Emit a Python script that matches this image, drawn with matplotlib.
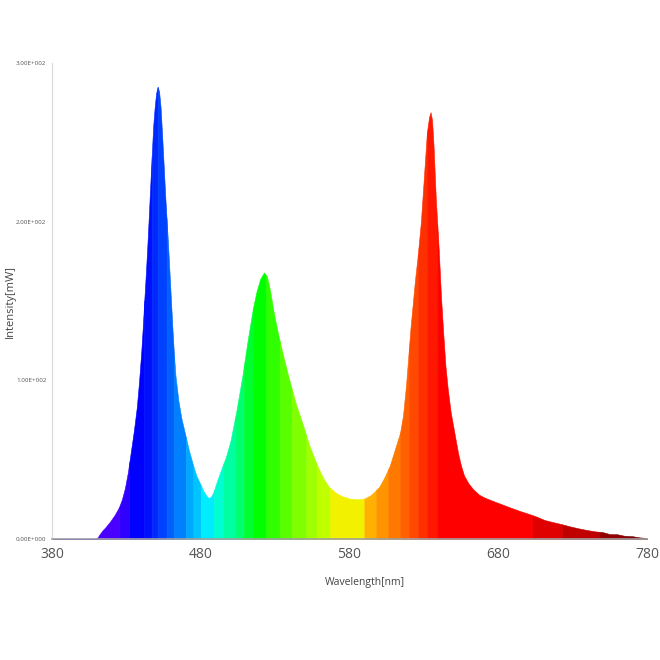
import numpy as np
import matplotlib
matplotlib.use("Agg")
import matplotlib.pyplot as plt

# ---- data ----
wavelength = [380, 400, 405, 410, 411, 412, 414, 416, 419, 422, 425, 427, 429, 431, 433,
              435, 437, 438.5, 440, 441, 442, 443, 444, 445, 446, 447, 448, 449, 450, 451,
              452, 453, 454, 455, 456, 457, 458, 459, 460, 461, 462, 463, 465, 467, 470,
              472, 475, 477, 480, 482, 484, 485.5, 487, 488.5, 490, 493, 497, 500, 504,
              508, 511.5, 515, 517.5, 520, 522.5, 524.5, 526.5, 529, 532, 535, 539, 544,
              549, 553, 558, 562, 566, 571, 575, 580, 585, 590, 594, 597, 600, 603, 607,
              611, 614, 616, 618, 619.5, 621, 622.5, 624, 626, 628, 630, 632, 633.5, 634.5,
              635.5, 636.5, 638, 640, 641.5, 643, 644.5, 646, 648, 650.5, 653, 655, 657,
              660, 663, 667, 671, 675, 682, 689, 695, 700, 706, 711, 716, 722, 728, 734,
              740, 745, 750, 755, 760, 765, 770, 775, 778, 780]
intensity = [0, 0, 0, 0.3, 1.5, 3, 5.5, 7.5, 11, 15, 20, 25, 32, 42, 55,
             68, 83, 99, 118, 133, 150, 166, 183, 202, 222, 241, 260, 272, 281, 285,
             282, 272, 255, 237, 218, 202, 186, 168, 150, 132, 116, 103, 87, 76, 64,
             56, 46, 40, 34, 30, 27, 25.8, 26.8, 29.5, 34, 42, 52, 62, 81,
             103, 125, 145, 156, 164, 168, 165.5, 157, 143, 129, 117, 102, 85,
             71, 59, 47, 39, 33, 29, 27, 25.5, 25, 25.5, 27.5, 30, 33, 38, 46,
             58, 67, 78, 97, 115, 133, 148, 163, 180, 200, 228, 256, 266, 269,
             264, 248, 215, 182, 153, 130, 109, 95, 80, 67, 54, 46, 40,
             35, 31.5, 28, 26, 24.5, 22, 19.5, 17.5, 16, 14, 12, 10.8, 9.5, 8, 6.7,
             5.6, 4.8, 4.4, 3.1, 3.0, 2.0, 1.8, 1.0, 0.8, 0.3]

x_ticks = [380, 480, 580, 680, 780]
y_ticks = [0, 100, 200, 300]
y_tick_labels = ["0.00E+000", "1.00E+002", "2.00E+002", "3.00E+002"]

# colour stripes (start wavelength, colour)
band_start = [380, 425, 432, 442, 447, 451, 457, 462, 470, 475, 480, 489, 495, 503, 509,
              515, 524, 533, 541, 551, 558, 567, 590, 598, 606, 614, 620, 626, 632, 639,
              703, 723, 748, 765]
band_color = ['#4a00ff', '#3000ff', '#0000ff', '#0010ff', '#0028ff', '#0040ff', '#0060ff',
              '#0080ff', '#00a8ff', '#00c4ff', '#00ecff', '#00ffd0', '#00ffa0', '#00ff70',
              '#00ff30', '#00ff00', '#30ff00', '#58ff00', '#80ff00', '#a0ff00', '#c0ff00',
              '#f2f200', '#ffb000', '#ff9400', '#ff7800', '#ff6000', '#ff4800', '#ff3000',
              '#ff1800', '#ff0000', '#e00000', '#c00000', '#900000', '#780000']

plt.rcParams['font.family'] = ['Open Sans', 'DejaVu Sans']

fig = plt.figure(figsize=(6.6, 6.6), dpi=100)
ax = fig.add_axes([52/660, 1-539/660, (647-52)/660, (539-63)/660])

wl = np.array(wavelength, dtype=float)
it = np.array(intensity, dtype=float)
band_end = band_start[1:] + [780]
for a, b, c in zip(band_start, band_end, band_color):
    inner = wl[(wl > a) & (wl < b)]
    xs = np.concatenate([[a], inner, [b]])
    ys = np.interp(xs, wl, it)
    ax.fill_between(xs, 0, ys, facecolor=c, edgecolor=c, linewidth=0.4)

ax.set_xlim(380, 780)
ax.set_ylim(0, 300)
ax.set_xticks(x_ticks)
ax.set_xticklabels([str(t) for t in x_ticks], fontsize=10, color='#555555')
ax.set_yticks(y_ticks)
ax.set_yticklabels(y_tick_labels, fontsize=4.5, color='#555555')
ax.tick_params(axis='both', length=0)
ax.tick_params(axis='x', pad=6)
ax.tick_params(axis='y', pad=4)

for s in ['top', 'right']:
    ax.spines[s].set_visible(False)
ax.spines['left'].set_color('#d9d9d9')
ax.spines['left'].set_linewidth(0.8)
ax.spines['bottom'].set_color('#a0a0a0')
ax.spines['bottom'].set_linewidth(1.2)
ax.spines['bottom'].set_zorder(5)

ax.set_xlabel("Wavelength[nm]", fontsize=7.5, color='#444444')
ax.set_ylabel("Intensity[mW]", fontsize=8, color='#444444')
ax.xaxis.set_label_coords((365-52)/(647-52), -(583-539)/(539-63))
ax.yaxis.set_label_coords(-(52-10)/(647-52), (539-302)/(539-63))
ax.xaxis.label.set_verticalalignment('center')
ax.yaxis.label.set_verticalalignment('center')

fig.savefig("out.png", dpi=100, facecolor='white')
